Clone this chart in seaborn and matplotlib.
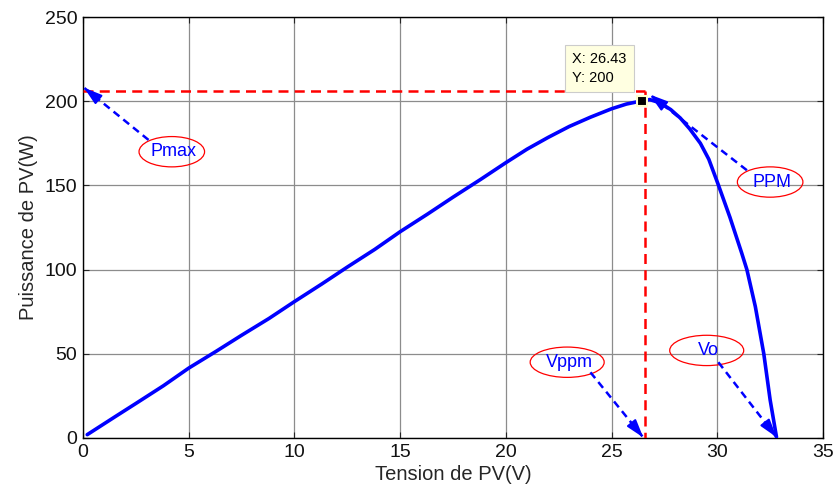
import matplotlib
matplotlib.use("Agg")
import matplotlib.pyplot as plt
from matplotlib.patches import Ellipse
import seaborn as sns
import pandas as pd

# P-V characteristic of the PV panel
voltage = [0.2, 1.5, 2.5, 3.8, 5.0, 6.3, 7.5, 8.8, 10.0, 11.3, 12.5, 13.8, 15.0,
           16.3, 17.5, 18.8, 20.0, 21.0, 22.0, 23.0, 24.0, 25.0, 25.7, 26.2, 26.43,
           26.8, 27.3, 27.8, 28.25, 28.7, 29.2, 29.6, 30.03, 30.6, 31.15, 31.4,
           31.8, 32.2, 32.5, 32.8]
power = [2.0, 12.5, 20.5, 31.0, 41.5, 51.5, 61.0, 71.0, 81.0, 91.5, 101.5, 112.0,
         122.5, 133.0, 143.0, 153.5, 163.5, 171.5, 178.5, 185.0, 190.5, 195.5,
         198.3, 199.6, 200.0, 201.0, 199.0, 195.0, 190.0, 183.5, 175.0, 165.5,
         151.0, 131.0, 110.0, 100.0, 78.0, 50.0, 22.6, 0.6]

# Maximum power point data tip
mpp_v = 26.43
mpp_p = 200
ref_v = 26.6
ref_p = 206

x_ticks = [0, 5, 10, 15, 20, 25, 30, 35]
y_ticks = [0, 50, 100, 150, 200, 250]

# Callout labels: text, ellipse centre, ellipse width, arrow start, arrow tip
callouts = [
    ("Pmax", (4.2, 170), 3.1, (3.1, 177), (0.05, 208)),
    ("PPM", (32.5, 152), 3.1, (31.4, 159), (26.8, 204)),
    ("Vppm", (22.9, 45), 3.5, (24.0, 39), (26.5, 0.3)),
    ("Vo", (29.5, 52), 3.5, (30.05, 45), (32.8, 0.5)),
]

df = pd.DataFrame({"V": voltage, "P": power})

sns.set_theme(style="white")
plt.rcParams["font.family"] = ["Liberation Sans", "DejaVu Sans"]

fig = plt.figure(figsize=(8.37, 4.99), dpi=100)
ax = fig.add_axes([83 / 837, 1 - 438 / 499, 740 / 837, 421 / 499])

ax.set_xlim(0, 35)
ax.set_ylim(0, 250)
ax.set_xticks(x_ticks)
ax.set_yticks(y_ticks)
ax.grid(True, color="#8c8c8c", lw=0.9, zorder=0)
ax.set_axisbelow(True)

# Reference lines to the maximum power point
ax.plot([0, ref_v], [ref_p, ref_p], ls=(0, (4, 2.5)), color="red", lw=1.8, zorder=3)
ax.plot([ref_v, ref_v], [ref_p, 0], ls=(0, (4, 2.5)), color="red", lw=1.8, zorder=3)

sns.lineplot(data=df, x="V", y="P", ax=ax, color="blue", lw=2.6, sort=False,
             zorder=4, legend=False)

# Data tip
ax.plot([mpp_v], [mpp_p], marker="s", ms=7, mfc="black", mec="#ffffcc", mew=1.5,
        zorder=6)
ax.text(23.15, 219.5, f"X: {mpp_v}\nY: {mpp_p}", fontsize=10.5, color="black",
        va="center", ha="left", linespacing=1.45, zorder=7,
        bbox=dict(boxstyle="square,pad=0.5", fc="#ffffe1", ec="#cccccc", lw=0.8))

for label, centre, width, start, tip in callouts:
    ax.add_patch(Ellipse(centre, width, 18, fill=False, ec="red", lw=0.9, zorder=5))
    ax.text(centre[0] + 0.1, centre[1], label, color="blue", fontsize=13,
            ha="center", va="center", zorder=6)
    ax.plot([start[0], tip[0]], [start[1], tip[1]], ls=(0, (3, 2)), color="blue",
            lw=1.8, zorder=5, clip_on=False)
    dx = tip[0] - start[0]
    dy = tip[1] - start[1]
    ax.annotate("", xy=tip, xytext=(tip[0] - 0.08 * dx, tip[1] - 0.08 * dy),
                arrowprops=dict(arrowstyle="-|>,head_length=0.9,head_width=0.28",
                                color="blue", lw=1.5, shrinkA=0, shrinkB=0),
                annotation_clip=False, zorder=6)

ax.set_xlabel("Tension de PV(V)", fontsize=14.5, color="#262626", labelpad=3)
ax.set_ylabel("Puissance de PV(W)", fontsize=14.5, color="#262626", labelpad=5)
ax.tick_params(direction="in", length=4, width=0.8, top=True, right=True,
               bottom=True, left=True, labelsize=14, labelcolor="#111111", pad=4)
for s in ax.spines.values():
    s.set_color("black")
    s.set_linewidth(1.0)

fig.savefig("out.png", dpi=100)
